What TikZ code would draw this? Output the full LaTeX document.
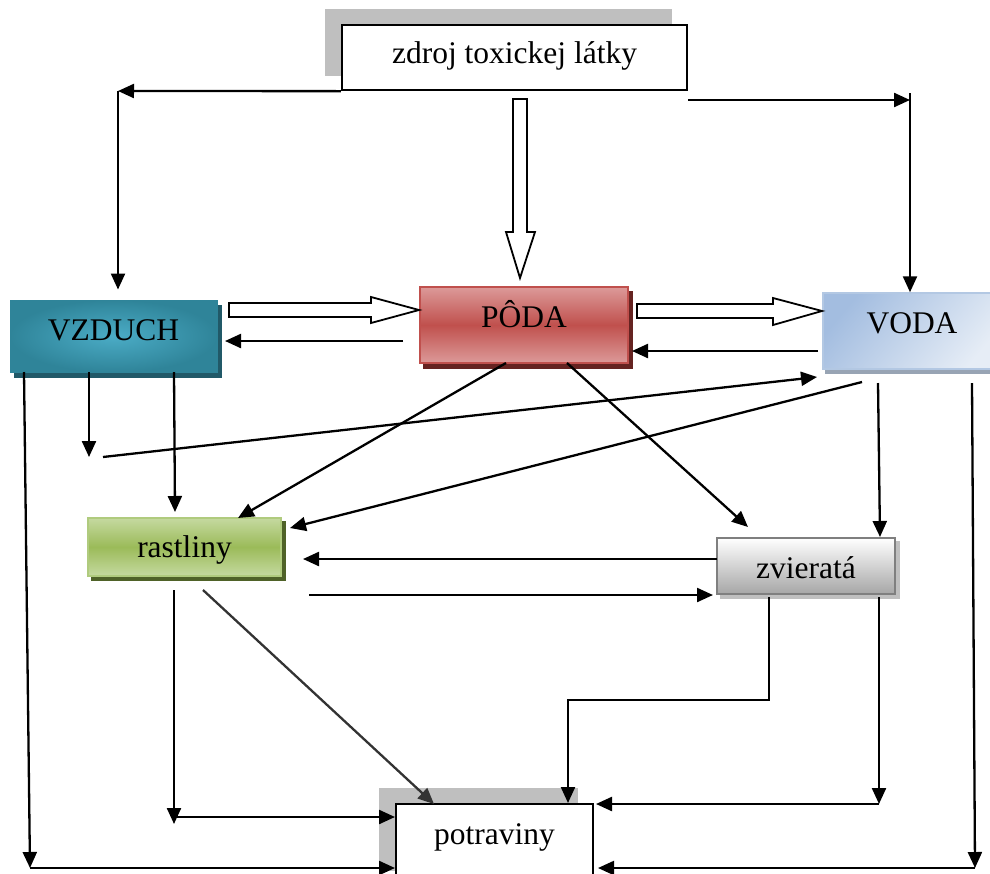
\documentclass[tikz,border=0pt]{standalone}
\usepackage{fontspec}
\setmainfont{Liberation Serif}
\usetikzlibrary{arrows.meta,backgrounds,calc}
\definecolor{shadowgray}{HTML}{BFBFBF}
\definecolor{vzIn}{HTML}{4BACC6}
\definecolor{vzOut}{HTML}{2F8499}
\definecolor{vzSh}{HTML}{215968}
\definecolor{poLight}{HTML}{DC9A99}
\definecolor{poMid}{HTML}{C0504D}
\definecolor{poSh}{HTML}{652321}
\definecolor{voDark}{HTML}{A3BDE0}
\definecolor{voLight}{HTML}{E6EDF6}
\definecolor{voBorder}{HTML}{B3C8E3}
\definecolor{voSh}{HTML}{98A4B4}
\definecolor{raLight}{HTML}{C5D9A0}
\definecolor{raMid}{HTML}{9BBB59}
\definecolor{raBorder}{HTML}{B0CB7E}
\definecolor{raSh}{HTML}{4F6228}
\definecolor{zvBottom}{HTML}{A6A6A6}
\definecolor{zvBorder}{HTML}{7F7F7F}
\begin{document}
\begin{tikzpicture}[x=1pt,y=-1pt,
  box/.style={rectangle, inner sep=0pt, font=\fontsize{31.5}{36}\selectfont},
  arr/.style={line width=2.3pt, -{Triangle[length=16pt,width=14pt]}},
  hollow/.style={line width=1.8pt, fill=white, line join=miter}]
\useasboundingbox (0,0) rectangle (990,873);

% ---------- boxes ----------
\node[box, draw=black, line width=2.3pt, fill=white, minimum width=345pt, minimum height=65pt,
      text height=21pt, text depth=10pt] (zdroj) at (514.5,57.5) {zdroj toxickej látky};
\node[box, draw=vzOut, line width=1pt, inner color=vzIn, outer color=vzOut,
      minimum width=207pt, minimum height=72pt, text height=21pt, text depth=13pt]
      (vzduch) at (113.5,336) {VZDUCH};
\node[box, draw=poMid, line width=1.5pt, top color=poLight, bottom color=poLight, middle color=poMid,
      minimum width=208pt, minimum height=76pt, text height=27pt, text depth=23pt]
      (poda) at (524,325) {PÔDA};
\node[box, draw=voBorder, line width=1.5pt, left color=voDark, right color=voLight, shading angle=50,
      minimum width=178pt, minimum height=76pt, text height=21pt, text depth=17pt]
      (voda) at (912,331) {VODA};
\node[box, draw=raBorder, line width=1.5pt, top color=raLight, bottom color=raLight, middle color=raMid,
      minimum width=193pt, minimum height=58pt, text height=21pt, text depth=1pt]
      (rast) at (184.5,547) {rastliny};
\node[box, draw=zvBorder, line width=2pt, top color=white, bottom color=zvBottom,
      minimum width=178pt, minimum height=56pt, text height=24pt, text depth=0pt]
      (zvier) at (806,566) {zvieratá};
\node[box, draw=black, line width=2.3pt, fill=white, minimum width=197pt, minimum height=81pt,
      text height=21pt, text depth=22pt] (potr) at (494.5,844.5) {potraviny};

% ---------- shadows ----------
\begin{scope}[on background layer]
  \fill[shadowgray] ([shift={(-16,-15)}]zdroj.north west) rectangle ([shift={(-16,-15)}]zdroj.south east);
  \fill[shadowgray] ([shift={(-16,-15)}]potr.north west) rectangle ([shift={(-16,-15)}]potr.south east);
  \fill[vzSh] ([shift={(4,5)}]vzduch.north west) rectangle ([shift={(4,5)}]vzduch.south east);
  \fill[poSh] ([shift={(4,5)}]poda.north west) rectangle ([shift={(4,5)}]poda.south east);
  \fill[voSh] ([shift={(3,4)}]voda.north west) rectangle ([shift={(3,4)}]voda.south east);
  \fill[raSh] ([shift={(4,4)}]rast.north west) rectangle ([shift={(4,4)}]rast.south east);
  \fill[shadowgray] ([shift={(4,4)}]zvier.north west) rectangle ([shift={(4,4)}]zvier.south east);
\end{scope}

% ---------- coordinates ----------
\coordinate (tl) at (118,91);
\coordinate (tr) at (910,100);
\coordinate (trtop) at (910,93);
\coordinate (pv1) at (403,341);  \coordinate (pv2) at (225,341);
\coordinate (vp1) at (818,351);  \coordinate (vp2) at (632,351);
\coordinate (va) at (24,372);    \coordinate (vb) at (30,868);   \coordinate (vc) at (395,868);
\coordinate (vd) at (89,372);    \coordinate (ve) at (89,457);
\coordinate (vf) at (174,372);   \coordinate (vg) at (175,512);
\coordinate (la) at (103,457);   \coordinate (lb) at (817,377);
\coordinate (pa) at (506,363);   \coordinate (pb) at (238,518);
\coordinate (pc) at (567,363);   \coordinate (pd) at (748,527);
\coordinate (wa) at (862,382);   \coordinate (wb) at (290,528);
\coordinate (wc) at (878,383);   \coordinate (wd) at (880,537);
\coordinate (we) at (972,383);   \coordinate (wf) at (975,868);  \coordinate (wg) at (598,868);
\coordinate (za) at (717,559);   \coordinate (zb) at (303,559);
\coordinate (ra) at (309,595);   \coordinate (rb) at (713,595);
\coordinate (rc) at (174,590);   \coordinate (rd) at (174,824);
\coordinate (re) at (176,817);   \coordinate (rf) at (395,817);
\coordinate (rg) at (203,590);   \coordinate (rh) at (434,804);
\coordinate (ea) at (769,597);   \coordinate (eb) at (769,700);  \coordinate (ec) at (568,700); \coordinate (ed) at (568,803);
\coordinate (ef) at (879,597);   \coordinate (eg) at (879,804);  \coordinate (eh) at (596,804);

% ---------- connectors ----------
\draw[arr] (zdroj.south west) -- (tl);
\draw[arr, shorten >=10pt] (tl) -- (vzduch.north -| tl);
\draw[arr] (zdroj.east |- tr) -- (tr);
\draw[arr] (trtop) -- (voda.north -| trtop);

% hollow block arrows
\draw[hollow] (513,99) -- (527,99) -- (527,232) -- (535,232) -- (520,278) -- (506,232) -- (513,232) -- cycle;
\draw[hollow] (229,303) -- (371,303) -- (371,297) -- (419,310) -- (371,323) -- (371,317) -- (229,317) -- cycle;
\draw[hollow] (637,304) -- (773,304) -- (773,298) -- (822,311) -- (773,325) -- (773,318) -- (637,318) -- cycle;

\draw[arr] (pv1) -- (pv2);
\draw[arr] (vp1) -- (vp2);
\draw[arr] (va) -- (vb);
\draw[arr] (vb) -- (vc);
\draw[arr] (vd) -- (ve);
\draw[arr] (vf) -- (vg);
\draw[arr] (la) -- (lb);
\draw[arr] (pa) -- (pb);
\draw[arr] (pc) -- (pd);
\draw[arr] (wa) -- (wb);
\draw[arr] (wc) -- (wd);
\draw[arr] (we) -- (wf);
\draw[arr] (wf) -- (wg);
\draw[arr] (za) -- (zb);
\draw[arr] (ra) -- (rb);
\draw[arr] (rc) -- (rd);
\draw[arr] (re) -- (rf);
\draw[arr, draw=black!80, fill=black!80] (rg) -- (rh);
\draw[arr] (ea) -- (eb) -- (ec) -- (ed);
\draw[arr] (ef) -- (eg);
\draw[arr] (eg) -- (eh);
\end{tikzpicture}
\end{document}
